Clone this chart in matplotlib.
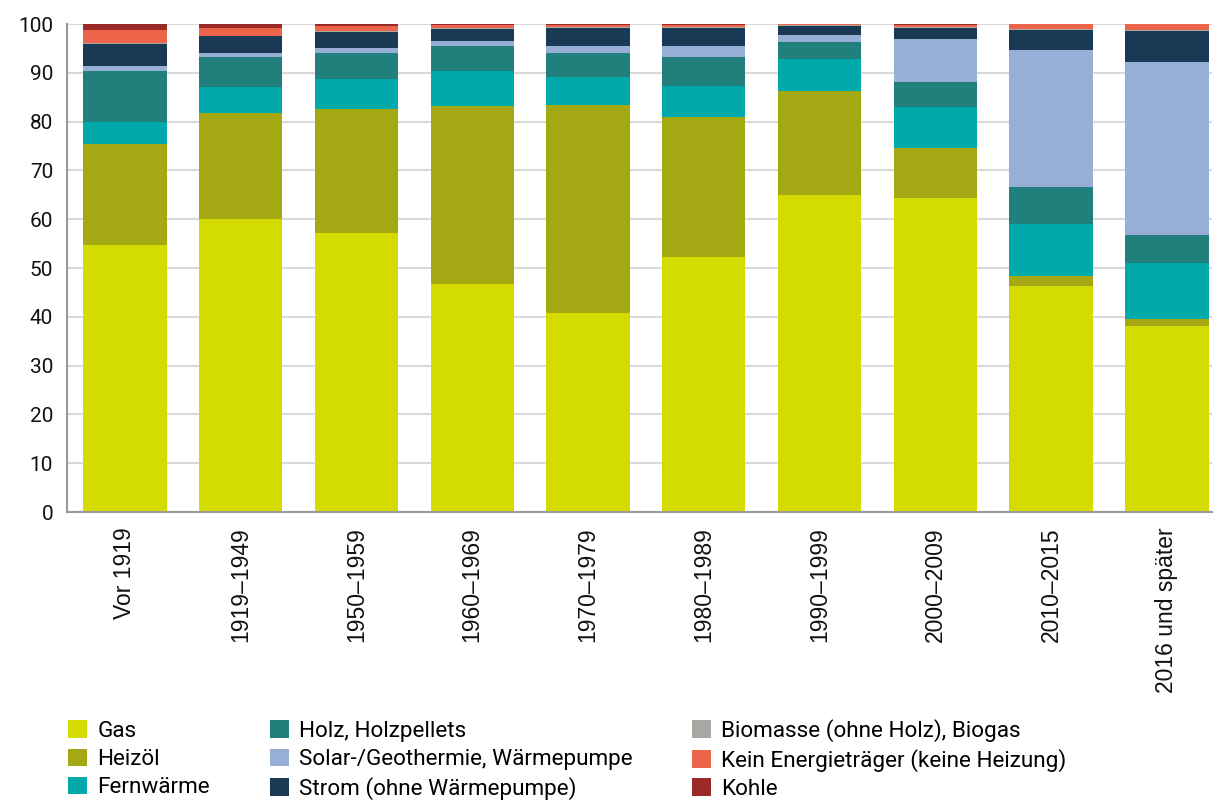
import matplotlib; matplotlib.use("Agg")
import matplotlib.pyplot as plt
import numpy as np

plt.rcParams['font.family'] = ['Roboto', 'DejaVu Sans']

periods = ["Vor 1919", "1919–1949", "1950–1959", "1960–1969", "1970–1979",
           "1980–1989", "1990–1999", "2000–2009", "2010–2015", "2016 und später"]

gas        = [54.7, 60.0, 57.2, 46.7, 40.8, 52.3, 65.0, 64.3, 46.3, 38.1]
heizoel    = [20.7, 21.8, 25.3, 36.5, 42.6, 28.6, 21.3, 10.3,  2.1,  1.4]
fernwaerme = [ 4.5,  5.3,  6.2,  7.2,  5.7,  6.4,  6.5,  8.4, 10.6, 11.5]
holz       = [10.5,  6.1,  5.4,  5.1,  5.0,  5.9,  3.5,  5.1,  7.6,  5.8]
solar      = [ 1.0,  0.9,  1.0,  1.0,  1.4,  2.3,  1.4,  8.8, 28.1, 35.4]
strom      = [ 4.6,  3.4,  3.3,  2.5,  3.7,  3.7,  1.9,  2.3,  4.1,  6.4]
biomasse   = [ 0.2,  0.1,  0.2,  0.1,  0.1,  0.2,  0.1,  0.2,  0.2,  0.2]
kein       = [ 2.5,  1.6,  1.0,  0.6,  0.5,  0.3,  0.3,  0.4,  1.0,  1.2]
kohle      = [ 1.3,  0.8,  0.4,  0.3,  0.2,  0.3,  0.1,  0.2,  0.0,  0.0]

series = [
    ("Gas", gas, "#d4db00"),
    ("Heizöl", heizoel, "#a3a813"),
    ("Fernwärme", fernwaerme, "#00aaab"),
    ("Holz, Holzpellets", holz, "#21807c"),
    ("Solar-/Geothermie, Wärmepumpe", solar, "#97aed6"),
    ("Strom (ohne Wärmepumpe)", strom, "#193954"),
    ("Biomasse (ohne Holz), Biogas", biomasse, "#a8a8a4"),
    ("Kein Energieträger (keine Heizung)", kein, "#ec654a"),
    ("Kohle", kohle, "#992a27"),
]

fig = plt.figure(figsize=(12.18, 8.02), dpi=100)
ax = fig.add_axes([67/1218, 1 - 512/802, (1212-67)/1218, (512-24)/802])

x = np.arange(len(periods))
bottom = np.zeros(len(periods))
handles = []
for name, vals, col in series:
    b = ax.bar(x, vals, width=0.72, bottom=bottom, color=col, label=name, zorder=2)
    handles.append(b)
    bottom += np.array(vals)

ax.set_xlim(-0.5, 9.39)
ax.set_ylim(0, 100)
ax.set_yticks(range(0, 101, 10))
ax.yaxis.grid(True, color="#d9d9d9", lw=1.5, zorder=0)
ax.set_axisbelow(True)
ax.set_xticks(x)
ax.set_xticklabels(periods, rotation=90, fontsize=16.5, color="#111",
                   family=["Liberation Sans", "DejaVu Sans"])
ax.tick_params(axis="y", labelsize=15, length=0, pad=10, labelcolor="#111")
ax.tick_params(axis="x", length=0, pad=11)
for s in ("top", "right"):
    ax.spines[s].set_visible(False)
for s in ("left", "bottom"):
    ax.spines[s].set_color("#9a9a96")
    ax.spines[s].set_linewidth(1.5)

fig.legend(handles=handles, loc="upper left", bbox_to_anchor=(68/1218, 1 - 719/802),
           ncol=3, frameon=False, fontsize=16.2, handlelength=0.85, handleheight=0.82,
           handletextpad=0.45, columnspacing=2.65, labelspacing=0.3, borderaxespad=0,
           borderpad=0)

plt.savefig("out.png", dpi=100)
